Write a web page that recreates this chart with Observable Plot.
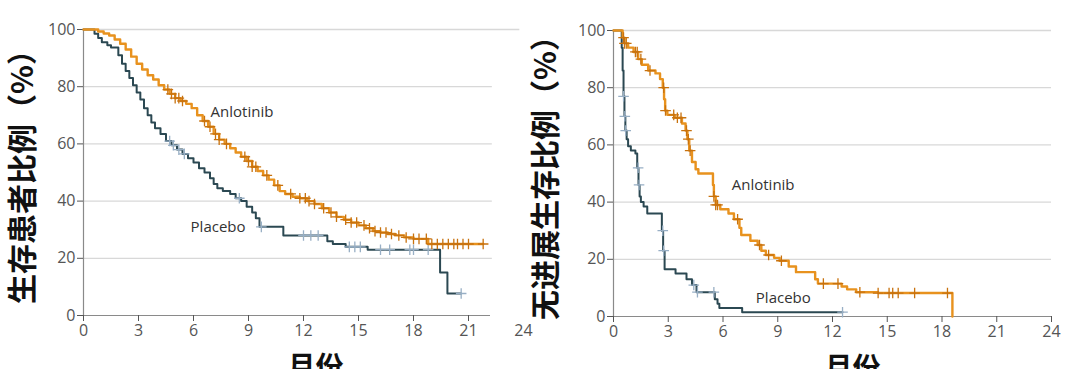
<!DOCTYPE html>
<html><head><meta charset="utf-8">
<script src="https://cdn.jsdelivr.net/npm/d3@7"></script>
<script src="https://cdn.jsdelivr.net/npm/@observablehq/plot@0.6"></script>
<style>
body{margin:0;background:#fff;}
#wrap{display:flex;width:1080px;height:369px;overflow:hidden;}
#wrap svg{display:block;overflow:visible;}
</style></head><body><div id="wrap"></div>
<script>
// ---- Overall survival (left panel) ----
const osAnloT = [0,0.8,1.1,1.4,1.7,2.0,2.3,2.6,2.9,3.2,3.5,3.8,4.1,4.4,4.7,5.0,5.3,5.6,5.9,6.2,6.5,6.8,7.1,7.4,7.7,8.0,8.3,8.6,8.9,9.2,9.5,9.8,10.1,10.4,10.7,11.0,11.4,11.8,12.2,12.6,13.0,13.4,13.8,14.2,14.6,15.0,15.4,15.8,16.2,16.6,17.0,17.5,18.0,18.8,21.8];
const osAnloS = [100,99.3,98.6,97.9,96.5,95,93,90.5,88,86,84,82.5,80.5,79,77.5,76,75,74,72.5,70,68,66,63.5,61.5,60,58.5,57,55.5,54,52,50.5,49,47.5,45.5,43.5,42.5,41.5,41,40,39,37.5,36,34.5,33.5,32.5,31.5,30.5,29.5,29,28.5,28,27.3,26.8,25,25];
const osAnloCens = [4.6,4.8,5.0,5.2,5.4,6.6,6.9,7.2,7.4,7.8,8.8,9.0,9.2,9.4,10.0,10.6,11.3,11.8,12.1,12.3,12.6,13.1,13.5,13.8,14.3,14.6,14.9,15.3,15.6,15.9,16.2,16.5,16.8,17.2,17.6,18.0,18.3,18.7,19.0,19.3,19.6,19.9,20.2,20.4,20.7,21.0,21.8];
const osPlacT = [0,0.6,0.8,1.0,1.3,1.5,1.9,2.1,2.3,2.5,2.7,2.9,3.1,3.3,3.5,3.7,3.9,4.2,4.5,4.8,5.1,5.4,5.7,6.0,6.3,6.6,6.9,7.1,7.3,7.6,8.0,8.3,8.6,8.9,9.2,9.4,9.6,10.9,13.3,13.6,14.3,15.5,19.45,19.85,20.6];
const osPlacS = [100,98.5,97,95.5,94.5,93.7,91,88,85.5,83,80.5,78,75.5,72.5,70,67.5,65.5,63.5,61,59.5,58,56.5,55,53.5,51.5,50,48,46,44.5,43.5,42.5,41,40,38,36,34,31,28,26,25,24,23,15,7.7,7.7];
const osPlacCens = [4.7,4.9,5.2,5.5,8.5,9.7,12.0,12.4,12.8,14.5,14.8,15.1,16.2,16.7,17.8,18.0,18.8,20.6];

// ---- Progression-free survival (right panel) ----
const pfsAnloT = [0,0.5,0.6,0.8,1.1,1.35,1.55,1.9,2.3,2.55,2.7,2.77,2.83,2.95,3.35,3.75,3.95,4.05,4.15,4.3,4.5,4.65,5.45,5.5,5.6,5.85,6.3,6.6,6.9,7.0,7.5,7.9,8.1,8.35,8.8,9.1,9.6,10.0,11.05,11.2,12.5,12.8,13.3,14.5,18.57];
const pfsAnloS = [100,97.5,95.5,94,92.5,90,88,86,85,83,80,76,72,70.5,69.5,67.5,65,62,58,54,51.5,50,46,42,39,37.5,36,34,31,28.5,26.5,25,23,21.5,20.5,19.5,17.5,15.5,13,11.5,10.5,9.5,8.5,8.2,0];
const pfsAnloCens = [0.55,0.6,0.7,1.2,1.3,1.5,2.0,2.75,2.85,3.3,3.5,3.7,4.0,4.1,4.2,5.5,5.6,5.7,6.8,8.0,8.5,9.2,11.5,12.3,13.5,14.5,15.1,15.3,15.6,16.5,18.3];
const pfsPlacT = [0,0.45,0.5,0.55,0.6,0.65,0.72,0.8,0.95,1.2,1.3,1.37,1.43,1.5,1.65,1.85,2.65,2.72,2.8,3.4,4.0,4.3,4.55,5.55,5.7,5.8,7.05,12.55];
const pfsPlacS = [100,94,86,77,70,65,62,59.5,58,57,52,46,42,40,38.5,36,30,23,16.5,15,13,11,8.5,6,4.5,3,1.5,1.5];
const pfsPlacCens = [0.55,0.62,0.67,1.35,1.4,2.7,2.75,4.4,4.6,5.5,12.55];

// ---- Text ----
const yTicks = [0,20,40,60,80,100];
const xTicks = [0,3,6,9,12,15,18,21,24];
const yTitles = ["生存患者比例（%）","无进展生存比例（%）"];
const xTitle = "月份";
const groupNames = ["Anlotinib","Placebo"];

const C_ANLO = "#E8921E", C_ANLO_C = "#C8720E", C_PLAC = "#2B4852", C_PLAC_C = "#98AFC5";

function series(t,s){return t.map((x,i)=>({t:x,s:s[i]}));}
function cens(t,s,c){return c.map(x=>({t:x,s:s[Math.max(0,d3.bisectRight(t,x)-1)]}));}

function panel(o){
  const grid = yTicks.filter(d=>d>0);
  return Plot.plot({
    width:o.width, height:369,
    marginLeft:o.ml, marginRight:o.mr, marginTop:o.mt, marginBottom:o.mb,
    x:{domain:[0,24]}, y:{domain:[0,100]},
    style:{fontFamily:"'Open Sans', sans-serif", background:"transparent", overflow:"visible"},
    marks:[
      Plot.ruleY(grid,{y:d=>d, x1:0, x2:d=>d===100?o.topGridX2:o.gridX2, stroke:"#d8d8d8", strokeWidth:1.3}),
      Plot.ruleY([0],{x1:0, x2:o.axisX2, stroke:"#8a8a8a", strokeWidth:1.2}),
      Plot.ruleX([0],{y1:0, y2:100, stroke:"#8a8a8a", strokeWidth:1.2}),
      Plot.axisY({ticks:yTicks, tickSize:6, tickPadding:2, fontSize:16, color:"#555", label:null}),
      Plot.axisX({ticks:o.xTickVals, tickSize:6, tickPadding:3, fontSize:16, color:"#555", label:null}),
      ...(o.xLabelOnly.length ? [Plot.axisX({ticks:o.xLabelOnly, tickSize:0, tickPadding:9, fontSize:16, color:"#555", label:null})] : []),
      Plot.line(series(o.pT,o.pS),{x:"t", y:"s", curve:"step-after", stroke:C_PLAC, strokeWidth:2}),
      Plot.dot(cens(o.pT,o.pS,o.pC),{x:"t", y:"s", symbol:"plus", r:3.5, stroke:C_PLAC_C, strokeWidth:1.3}),
      Plot.line(series(o.aT,o.aS),{x:"t", y:"s", curve:"step-after", stroke:C_ANLO, strokeWidth:2.4}),
      Plot.dot(cens(o.aT,o.aS,o.aC),{x:"t", y:"s", symbol:"plus", r:3.5, stroke:C_ANLO_C, strokeWidth:1.3}),
      Plot.text([{x:o.aLab[0], y:o.aLab[1], t:groupNames[0]},{x:o.pLab[0], y:o.pLab[1], t:groupNames[1]}],
        {x:"x", y:"y", text:"t", textAnchor:"start", fontSize:15, fill:"#333"}),
      Plot.text([o.yTitle],{frameAnchor:"left", textAnchor:"middle", lineAnchor:"middle", dx:o.yTitleDx, dy:-3, rotate:-90, fontSize:30, fontWeight:"bold",
        fontFamily:"'Noto Sans CJK SC', sans-serif", fill:"#111"}),
      Plot.text([{x:o.xTitleX, t:xTitle}],{x:"x", text:"t", frameAnchor:"bottom", lineAnchor:"top", dy:42, fontSize:28,
        fontWeight:"bold", fontFamily:"'Noto Sans CJK SC', sans-serif", fill:"#111"})
    ]
  });
}

const wrap = document.getElementById("wrap");
wrap.appendChild(panel({
  width:527, ml:83, mr:4, mt:29, mb:54,
  gridX2:22.3, topGridX2:23.8, axisX2:22.2,
  xTickVals:xTicks.slice(0,8), xLabelOnly:[24],
  aT:osAnloT, aS:osAnloS, aC:osAnloCens, pT:osPlacT, pS:osPlacS, pC:osPlacCens,
  aLab:[6.93,71], pLab:[5.84,31],
  yTitle:yTitles[0], yTitleDx:-60, xTitleX:12.66
}));
wrap.appendChild(panel({
  width:553, ml:86, mr:29, mt:30, mb:53,
  gridX2:24, topGridX2:24, axisX2:24,
  xTickVals:xTicks, xLabelOnly:[],
  aT:pfsAnloT, aS:pfsAnloS, aC:pfsAnloCens, pT:pfsPlacT, pS:pfsPlacS, pC:pfsPlacCens,
  aLab:[6.48,46], pLab:[7.8,6.3],
  yTitle:yTitles[1], yTitleDx:-67, xTitleX:13.1
}));
</script></body></html>
